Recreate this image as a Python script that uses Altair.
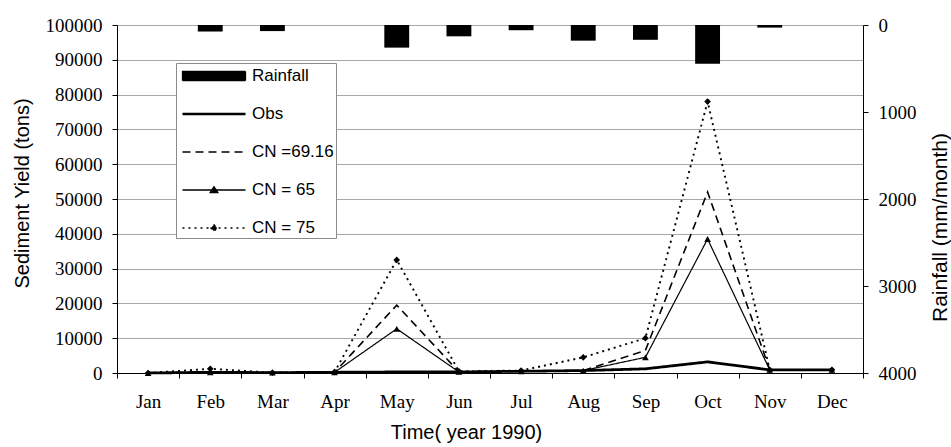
import altair as alt
import pandas as pd

# ---------------- data ----------------
months = ["Jan", "Feb", "Mar", "Apr", "May", "Jun", "Jul", "Aug", "Sep", "Oct", "Nov", "Dec"]
rainfall = [0, 75, 70, 0, 260, 130, 60, 180, 170, 445, 30, 0]          # mm/month
obs = [0, 200, 100, 200, 300, 300, 500, 700, 1200, 3200, 900, 900]
cn_6916 = [0, 300, 100, 200, 19500, 300, 500, 700, 6500, 52000, 900, 900]
cn_65 = [0, 200, 100, 200, 12700, 300, 500, 700, 4500, 38500, 900, 900]
cn_75 = [0, 1200, 100, 300, 32500, 500, 700, 4500, 10000, 78000, 900, 900]

series_names = ["Rainfall", "Obs", "CN =69.16", "CN = 65", "CN = 75"]
line_series = {"Obs": obs, "CN =69.16": cn_6916, "CN = 65": cn_65, "CN = 75": cn_75}
line_widths = {"Obs": 2.8, "CN =69.16": 1.6, "CN = 65": 1.2, "CN = 75": 1.9}
dash_range = [[1, 0], [1, 0], [8, 5], [1, 0], [2, 4]]
marker_series = ["CN = 65", "CN = 75"]
marker_shapes = ["triangle-up", "diamond"]

rain_df = pd.DataFrame({"month": months, "rain": rainfall})
rows = []
for name, vals in line_series.items():
    for m, v in zip(months, vals):
        rows.append({"month": m, "series": name, "value": v, "sw": line_widths[name]})
line_df = pd.DataFrame(rows)
point_df = line_df[line_df["series"].isin(marker_series)]

# ---------------- styling ----------------
SERIF = "Liberation Serif"
SANS = "Liberation Sans"

x_axis = alt.Axis(
    orient="bottom", tickBand="extent", labelAngle=0, tickSize=5, labelPadding=14,
    grid=False, domainColor="black", tickColor="black",
    labelFont=SERIF, labelFontSize=19, labelColor="black",
    title="Time( year 1990)", titleFont=SANS, titleFontSize=20, titleFontWeight="normal",
    titleColor="black", titleX=349, titleY=59, titleBaseline="middle", titleAlign="center",
)
x_enc = alt.X(
    "month:N", sort=months,
    scale=alt.Scale(type="band", domain=months, paddingInner=0, paddingOuter=0),
    axis=x_axis,
)

left_axis = alt.Axis(
    orient="left", values=list(range(0, 100001, 10000)), format="d",
    grid=True, gridColor="#a8a8a8", gridWidth=1,
    domainColor="black", tickColor="black", tickSize=5, labelPadding=10,
    labelFont=SERIF, labelFontSize=19, labelColor="black",
    title="Sediment Yield (tons)", titleFont=SANS, titleFontSize=20, titleFontWeight="normal",
    titleColor="black", titleAngle=270, titleX=-95, titleY=168,
    titleAlign="center", titleBaseline="middle",
)
right_axis = alt.Axis(
    orient="right", values=[0, 1000, 2000, 3000, 4000], format="d", grid=False,
    domainColor="black", tickColor="black", tickSize=5, labelPadding=10,
    labelFont=SERIF, labelFontSize=19, labelColor="black",
    title="Rainfall (mm/month)", titleFont=SANS, titleFontSize=21, titleFontWeight="normal",
    titleColor="black", titleAngle=270, titleX=77, titleY=202,
    titleAlign="center", titleBaseline="middle",
)

y_scale = alt.Scale(domain=[0, 100000], nice=False, zero=True)

shape_expr = (
    "datum.value === 'Rainfall' ? "
    "'M-0.65,-0.45H5.65V0.45H-0.65ZM-0.65,-0.3H5.65M-0.65,-0.15H5.65M-0.65,0H5.65M-0.65,0.15H5.65M-0.65,0.3H5.65' : "
    "datum.value === 'Obs' ? 'M-0.65,-0.07H5.65M-0.65,0.07H5.65' : "
    "datum.value === 'CN = 65' ? 'M-0.65,0H5.65M2.5,-0.33L2.88,0.25L2.12,0.25Z' : "
    "datum.value === 'CN = 75' ? 'M-0.65,0H5.65M2.5,-0.33L2.82,0L2.5,0.33L2.18,0Z' : "
    "'M-0.65,0H5.65'"
)

legend = alt.Legend(
    title=None, orient="none", legendX=59, legendY=38, direction="vertical",
    symbolType=alt.ExprRef(expr=shape_expr),
    symbolSize=400, symbolStrokeWidth=1.3, symbolStrokeColor="black",
    symbolFillColor="black", symbolOpacity=1,
    labelFont=SANS, labelFontSize=17, labelColor="black", labelOffset=52,
    rowPadding=19, padding=2, strokeColor="#8a8a8a", fillColor="white",
)

# ---------------- layers ----------------
bars = alt.Chart(rain_df).mark_bar(color="black", width=alt.RelativeBandSize(0.4)).encode(
    x=x_enc,
    y=alt.Y("rain:Q", scale=alt.Scale(domain=[0, 4000], reverse=True, nice=False), axis=right_axis),
)

lines = alt.Chart(line_df).mark_line(color="black").encode(
    x=x_enc,
    y=alt.Y("value:Q", scale=y_scale, axis=left_axis),
    strokeDash=alt.StrokeDash(
        "series:N", scale=alt.Scale(domain=series_names, range=dash_range), legend=legend
    ),
    strokeWidth=alt.StrokeWidth("sw:Q", scale=None),
)

points = alt.Chart(point_df).mark_point(filled=True, color="black", size=45, opacity=1).encode(
    x=x_enc,
    y=alt.Y("value:Q", scale=y_scale, axis=None),
    shape=alt.Shape("series:N", scale=alt.Scale(domain=marker_series, range=marker_shapes), legend=None),
)

chart = (
    alt.layer(bars, lines, points)
    .resolve_scale(y="independent")
    .properties(
        width=746, height=348,
        autosize=alt.AutoSizeParams(type="none"),
        padding={"left": 117, "top": 25, "right": 88, "bottom": 74},
        background="white",
    )
    .configure_view(stroke=None)
)

chart.save("out.html", embed_options={"renderer": "svg", "actions": False})
